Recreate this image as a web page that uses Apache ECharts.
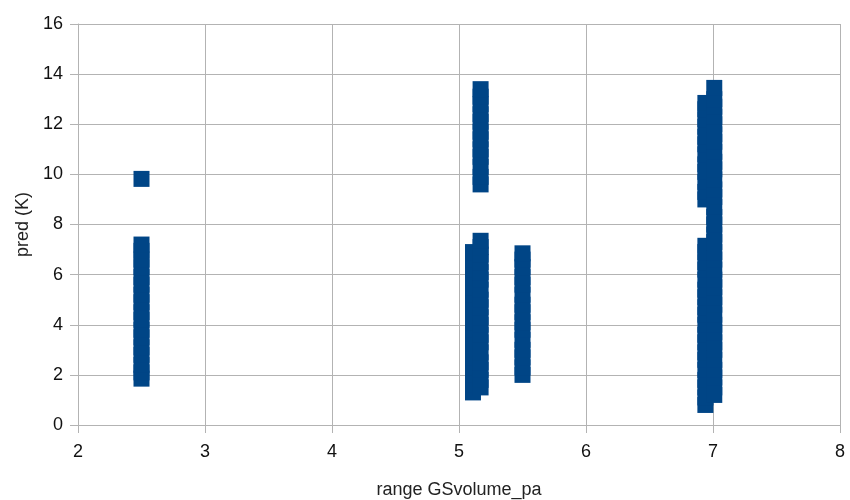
<!DOCTYPE html>
<html>
<head>
<meta charset="utf-8">
<script src="https://cdn.jsdelivr.net/npm/echarts@6/dist/echarts.min.js"></script>
<style>html,body{margin:0;padding:0;background:#fff}#c{width:850px;height:500px}</style>
</head>
<body>
<div id="c"></div>
<script>
// x positions of each group and their y values
const xA = 2.5;
const yA = [1.85, 2.1, 2.4, 2.8, 3.1, 3.5, 3.8, 4.2, 4.5, 4.9, 5.2, 5.6, 5.9, 6.3, 6.6, 6.95, 7.2, 9.82];
const xB1 = 5.11;
const yB1 = [1.3, 1.6, 2.0, 2.3, 2.7, 3.0, 3.4, 3.8, 4.1, 4.5, 4.8, 5.2, 5.5, 5.9, 6.2, 6.6, 6.9];
const xB2 = 5.17;
const yB2 = [1.5, 1.8, 2.2, 2.5, 2.9, 3.3, 3.6, 4.0, 4.3, 4.7, 5.0, 5.4, 5.8, 6.1, 6.5, 6.8, 7.1, 7.35,
             9.6, 9.9, 10.3, 10.7, 11.0, 11.4, 11.7, 12.1, 12.4, 12.8, 13.1, 13.4];
const xC = 5.5;
const yC = [2.0, 2.3, 2.7, 3.0, 3.4, 3.8, 4.1, 4.5, 4.8, 5.2, 5.6, 5.9, 6.3, 6.6, 6.85];
const xD1 = 6.94;
const yD1 = [0.8, 1.1, 1.5, 1.8, 2.2, 2.6, 2.9, 3.3, 3.6, 4.0, 4.4, 4.7, 5.1, 5.4, 5.8, 6.2, 6.5, 6.9, 7.15,
             9.0, 9.3, 9.7, 10.1, 10.4, 10.8, 11.2, 11.5, 11.9, 12.2, 12.6, 12.85];
const xD2 = 7.01;
const yD2 = [1.2, 1.5, 1.9, 2.2, 2.6, 3.0, 3.3, 3.7, 4.0, 4.4, 4.8, 5.1, 5.5, 5.8, 6.2, 6.6, 6.9, 7.3, 7.6,
             8.0, 8.3, 8.7, 9.1, 9.4, 9.8, 10.2, 10.5, 10.9, 11.3, 11.6, 12.0, 12.3, 12.7, 13.0, 13.45];

const groups = [[xA, yA], [xB1, yB1], [xB2, yB2], [xC, yC], [xD1, yD1], [xD2, yD2]];
const points = [];
groups.forEach(([x, ys]) => ys.forEach(y => points.push([x, y])));

const gridColor = '#b3b3b3';
const font = 'Liberation Sans, Arial, sans-serif';
const chart = echarts.init(document.getElementById('c'));
chart.setOption({
  animation: false,
  grid: {left: 78, right: 10, top: 24, bottom: 75, containLabel: false, outerBoundsMode: 'none'},
  xAxis: {
    type: 'value', min: 2, max: 8, interval: 1,
    name: 'range GSvolume_pa', nameLocation: 'middle', nameGap: 56,
    nameTextStyle: {color: '#222', fontSize: 18, fontFamily: font},
    axisLine: {show: true, lineStyle: {color: gridColor, width: 1}},
    axisTick: {show: true, length: 8, inside: false, lineStyle: {color: gridColor}},
    axisLabel: {color: '#111', fontSize: 18, fontFamily: font, margin: 18},
    splitLine: {show: true, lineStyle: {color: gridColor, width: 1}}
  },
  yAxis: {
    type: 'value', min: 0, max: 16, interval: 2,
    name: 'pred (K)', nameLocation: 'middle', nameGap: 46, nameRotate: 90,
    nameTextStyle: {color: '#222', fontSize: 18, fontFamily: font},
    axisLine: {show: true, lineStyle: {color: gridColor, width: 1}},
    axisTick: {show: true, length: 8, lineStyle: {color: gridColor}},
    axisLabel: {color: '#111', fontSize: 18, fontFamily: font, margin: 15},
    splitLine: {show: true, lineStyle: {color: gridColor, width: 1}}
  },
  series: [{
    type: 'scatter',
    data: points,
    symbol: 'rect',
    symbolSize: 16,
    itemStyle: {color: '#004586', opacity: 1}
  }]
});
</script>
</body>
</html>
